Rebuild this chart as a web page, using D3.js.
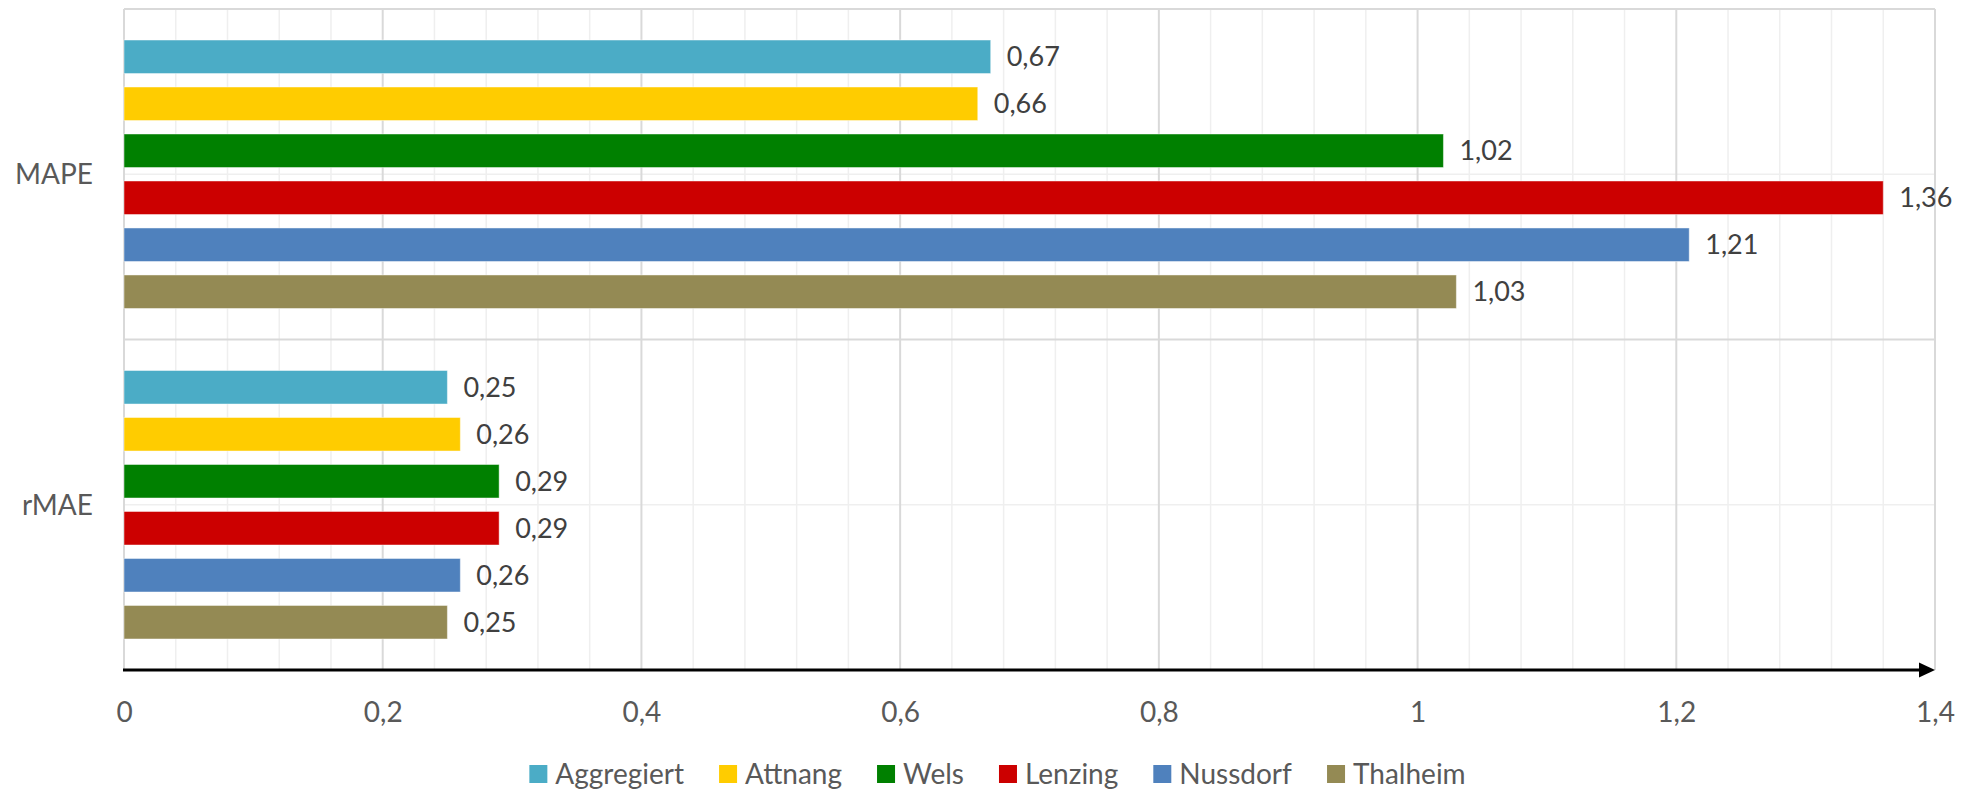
<!DOCTYPE html>
<html>
<head>
<meta charset="utf-8">
<script src="https://cdn.jsdelivr.net/npm/d3@7"></script>
<style>
  html, body { margin: 0; padding: 0; background: #ffffff; }
  svg { display: block; font-family: Lato, "Open Sans", sans-serif; }
</style>
</head>
<body>
<svg id="chart" width="1972" height="790"></svg>
<script>
// Error metrics per measuring station
const categories = ["MAPE", "rMAE"];
const seriesNames = ["Aggregiert", "Attnang", "Wels", "Lenzing", "Nussdorf", "Thalheim"];
const mapeValues = [0.67, 0.66, 1.02, 1.36, 1.21, 1.03];
const rmaeValues = [0.25, 0.26, 0.29, 0.29, 0.26, 0.25];
const seriesColors = ["#4BACC6", "#FFCC00", "#008000", "#CC0000", "#4F81BD", "#948A54"];
const xTickValues = [0, 0.2, 0.4, 0.6, 0.8, 1.0, 1.2, 1.4];
const xMax = 1.4;

const W = 1972, H = 790;
const margin = { top: 9, right: 37, bottom: 120, left: 124 };

const valuesByCategory = { "MAPE": mapeValues, "rMAE": rmaeValues };
const rows = [];
categories.forEach(c => {
  seriesNames.forEach((s, i) => rows.push({ category: c, series: s, value: valuesByCategory[c][i], color: seriesColors[i] }));
});

const de = d3.formatLocale({ decimal: ",", thousands: ".", grouping: [3], currency: ["", " €"] });
const fmtTick = de.format("~g");
const fmtVal = de.format(".2f");

const svg = d3.select("#chart");

const x = d3.scaleLinear().domain([0, xMax]).range([margin.left, W - margin.right]);
const y0 = d3.scaleBand().domain(categories).range([margin.top, H - margin.bottom]).padding(0);
const y1 = d3.scaleBand().domain(seriesNames).range([0, y0.bandwidth()]).paddingInner(0.287).paddingOuter(0.66);

const plotTop = margin.top, plotBottom = H - margin.bottom;

// minor vertical gridlines every 0.04
const minorTicks = d3.range(0, xMax + 1e-9, 0.04).filter(v => Math.abs(v / 0.2 - Math.round(v / 0.2)) > 1e-6);
svg.append("g").selectAll("line").data(minorTicks).join("line")
  .attr("x1", d => x(d)).attr("x2", d => x(d))
  .attr("y1", plotTop).attr("y2", plotBottom)
  .attr("stroke", "#efefef").attr("stroke-width", 1.5);

// minor horizontal gridlines through the category centres
svg.append("g").selectAll("line").data(categories).join("line")
  .attr("x1", x(0)).attr("x2", x(xMax))
  .attr("y1", d => y0(d) + y0.bandwidth() / 2).attr("y2", d => y0(d) + y0.bandwidth() / 2)
  .attr("stroke", "#efefef").attr("stroke-width", 1.5);

// major vertical gridlines
svg.append("g").selectAll("line").data(xTickValues).join("line")
  .attr("x1", d => x(d)).attr("x2", d => x(d))
  .attr("y1", plotTop).attr("y2", plotBottom)
  .attr("stroke", "#d9d9d9").attr("stroke-width", 2);

// major horizontal gridlines at category boundaries
svg.append("g").selectAll("line").data(categories).join("line")
  .attr("x1", x(0)).attr("x2", x(xMax))
  .attr("y1", d => y0(d)).attr("y2", d => y0(d))
  .attr("stroke", "#d9d9d9").attr("stroke-width", 2);

// bars
const groups = svg.append("g").selectAll("g").data(categories).join("g")
  .attr("transform", d => `translate(0,${y0(d)})`);

groups.selectAll("rect").data(c => rows.filter(r => r.category === c)).join("rect")
  .attr("x", x(0))
  .attr("y", d => y1(d.series))
  .attr("width", d => x(d.value) - x(0))
  .attr("height", y1.bandwidth())
  .attr("fill", d => d.color)
  .attr("stroke", "#ffffff").attr("stroke-opacity", 0.45).attr("stroke-width", 1);

// data labels
groups.selectAll("text").data(c => rows.filter(r => r.category === c)).join("text")
  .attr("x", d => x(d.value) + 16)
  .attr("y", d => y1(d.series) + y1.bandwidth() / 2)
  .attr("dy", "0.36em")
  .attr("font-size", 27)
  .attr("fill", "#404040")
  .text(d => fmtVal(d.value));

// category labels
svg.append("g").selectAll("text").data(categories).join("text")
  .attr("x", 93)
  .attr("y", d => y0(d) + y0.bandwidth() / 2)
  .attr("dy", "0.36em")
  .attr("text-anchor", "end")
  .attr("font-size", 28)
  .attr("fill", "#595959")
  .text(d => d);

// x axis with tick labels
const xAxis = d3.axisBottom(x).tickValues(xTickValues).tickSize(0).tickPadding(0).tickFormat(fmtTick);
const gx = svg.append("g").attr("transform", `translate(0,${plotBottom})`).call(xAxis);
gx.select(".domain").remove();
gx.selectAll("text")
  .attr("y", 52).attr("dy", 0)
  .attr("font-size", 28)
  .attr("font-family", "Lato, 'Open Sans', sans-serif")
  .attr("fill", "#595959");

// axis line with arrow head
svg.append("line")
  .attr("x1", x(0) - 1).attr("x2", x(xMax) - 14)
  .attr("y1", plotBottom).attr("y2", plotBottom)
  .attr("stroke", "#000000").attr("stroke-width", 3);
svg.append("path")
  .attr("d", `M${x(xMax) - 16},${plotBottom - 7.5}L${x(xMax)},${plotBottom}L${x(xMax) - 16},${plotBottom + 7.5}Z`)
  .attr("fill", "#000000");

// legend
const legend = svg.append("g");
const legendItems = legend.selectAll("g").data(seriesNames).join("g");
legendItems.append("rect")
  .attr("width", 18).attr("height", 18)
  .attr("y", 765)
  .attr("fill", (d, i) => seriesColors[i]);
legendItems.append("text")
  .attr("x", 26).attr("y", 774).attr("dy", "0.36em")
  .attr("font-size", 28)
  .attr("fill", "#595959")
  .text(d => d);

const itemGap = 35;
const widths = [];
legendItems.each(function () { widths.push(this.getBBox().width); });
const totalW = d3.sum(widths) + itemGap * (widths.length - 1);
const legendCenter = 997.5;
let cx = legendCenter - totalW / 2;
legendItems.attr("transform", (d, i) => {
  const t = `translate(${cx},0)`;
  cx += widths[i] + itemGap;
  return t;
});
</script>
</body>
</html>
